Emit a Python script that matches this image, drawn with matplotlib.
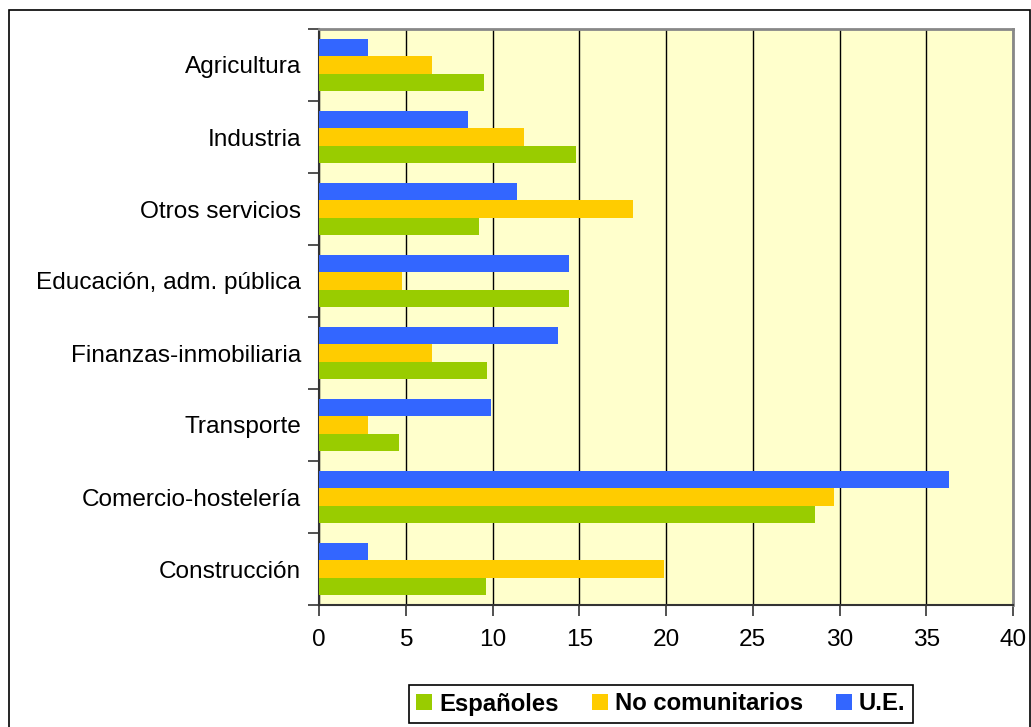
import matplotlib
matplotlib.use('Agg')
import matplotlib.pyplot as plt
from matplotlib.patches import Rectangle, Patch
import numpy as np

# Data (percent of workers by sector)
sectores = ['Agricultura', 'Industria', 'Otros servicios', 'Educación, adm. pública',
            'Finanzas-inmobiliaria', 'Transporte', 'Comercio-hostelería', 'Construcción']
espanoles = [9.5, 14.8, 9.2, 14.4, 9.7, 4.6, 28.6, 9.6]
no_comunitarios = [6.5, 11.8, 18.1, 4.8, 6.5, 2.8, 29.7, 19.9]
ue = [2.8, 8.6, 11.4, 14.4, 13.8, 9.9, 36.3, 2.8]
xticks = [0, 5, 10, 15, 20, 25, 30, 35, 40]

c_esp = '#99CC00'
c_noc = '#FFCC00'
c_ue = '#3366FF'

plt.rcParams['font.family'] = ['Liberation Sans', 'DejaVu Sans']

fig = plt.figure(figsize=(10.31, 7.27), dpi=100)
fig.patch.set_facecolor('white')

# outer frame around the whole chart
fig.patches.append(Rectangle((9/1031, -0.05), 1021/1031, 1.05 - 10/727,
                             transform=fig.transFigure, fill=False,
                             edgecolor='black', linewidth=1.2))

ax = fig.add_axes([319/1031, 1 - 605/727, 694/1031, 576/727])
ax.set_facecolor('#FFFFCC')

n = len(sectores)
y = np.arange(n)[::-1]
h = 0.243

ax.barh(y + h, ue, height=h, color=c_ue, zorder=3)
ax.barh(y, no_comunitarios, height=h, color=c_noc, zorder=3)
ax.barh(y - h, espanoles, height=h, color=c_esp, zorder=3)

ax.set_xlim(0, 40)
ax.set_ylim(-0.5, n - 0.5)

ax.set_xticks(xticks)
ax.set_xticklabels([str(t) for t in xticks])
ax.xaxis.grid(True, color='black', linewidth=1, zorder=1)
ax.set_axisbelow(True)

ax.set_yticks(np.arange(-0.5, n, 1.0))
ax.set_yticklabels([])
ax.set_yticks(y, minor=True)
ax.set_yticklabels(sectores, minor=True)
ax.tick_params(axis='y', which='major', length=8, width=1.2, color='#333333', direction='out')
ax.tick_params(axis='y', which='minor', length=0, pad=13, labelsize=17.6)
ax.tick_params(axis='x', which='major', length=8, width=1.2, color='#333333',
               direction='out', pad=9, labelsize=17.6)
for lab in ax.get_yticklabels(minor=True):
    lab.set_verticalalignment('center_baseline')

for side in ['top', 'right']:
    ax.spines[side].set_color('#888888')
    ax.spines[side].set_linewidth(2)
for side in ['left', 'bottom']:
    ax.spines[side].set_color('#333333')
    ax.spines[side].set_linewidth(1.5)

handles = [Patch(facecolor=c_esp, label='Españoles'),
           Patch(facecolor=c_noc, label='No comunitarios'),
           Patch(facecolor=c_ue, label='U.E.')]
leg = fig.legend(handles=handles, loc='center', bbox_to_anchor=(661/1031, 1 - 704/727),
                 ncol=3, frameon=True, fancybox=False, edgecolor='black', framealpha=1,
                 prop={'weight': 'bold', 'size': 17.2}, handlelength=0.65, handleheight=0.65,
                 handletextpad=0.3, columnspacing=1.4, borderpad=0.3)
leg.get_frame().set_linewidth(1.2)

fig.savefig('out.png', dpi=100)
